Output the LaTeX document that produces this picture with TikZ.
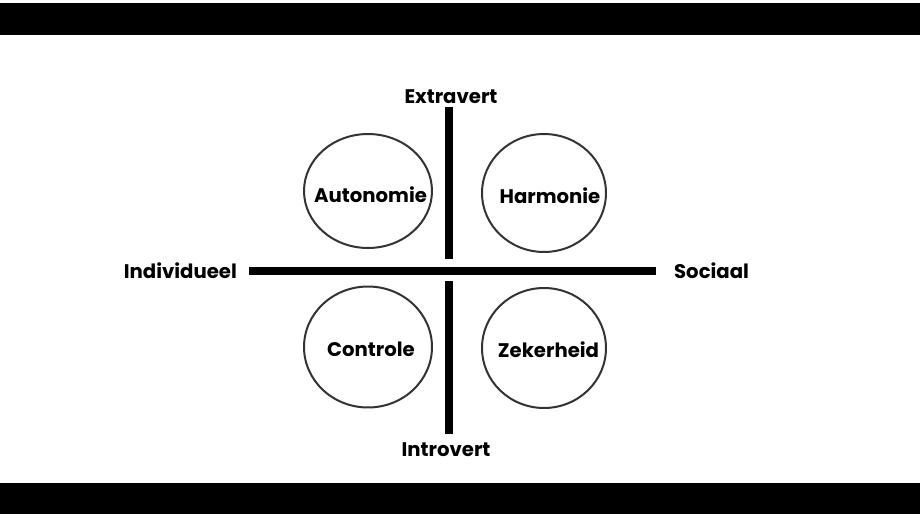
\documentclass[tikz,border=0pt]{standalone}
\usepackage{fontspec}
\setmainfont{Poppins}
\usetikzlibrary{positioning,calc,shapes.geometric}
\definecolor{ink}{HTML}{000000}
\definecolor{rim}{HTML}{333333}

\begin{document}
\begin{tikzpicture}[
  x=0.02cm,y=-0.02cm,
  font=\bfseries\fontsize{11.2}{13}\selectfont,
  pole/.style={text=ink,inner sep=1pt},
  quad/.style={ellipse,draw=rim,line width=0.04cm,inner sep=0pt},
  axis/.style={ink,line width=0.16cm}
]
\useasboundingbox (0,0) rectangle (920,518);
% the frame
\fill[ink] (0,3) rectangle (920,35);
\fill[ink] (0,483) rectangle (920,514);
% the poles
\node[pole] (ext) at (451,97) {Extravert};
\node[pole] (intr) at (446,450) {Introvert};
\node[pole,anchor=east] (ind) at (239,271) {Individueel};
\node[pole,anchor=west] (soc) at (672,271) {Sociaal};
% the axes
\coordinate (hl) at (249,271);
\coordinate (hr) at (656,271);
\coordinate (vt) at (449,107);
\coordinate (vm) at (449,259);
\coordinate (vn) at (449,281);
\coordinate (vb) at (449,434);
\draw[axis] (hl) -- (hr);
\draw[axis] (vt) -- (vm);
\draw[axis] (vn) -- (vb);
% the quadrants
\node[quad,minimum width=2.56cm,minimum height=2.28cm,
  label={[pole,xshift=0.05cm,yshift=-0.08cm]center:Autonomie}] (aut) at (368,191) {};
\node[quad,minimum width=2.48cm,minimum height=2.36cm,
  label={[pole,xshift=0.12cm,yshift=-0.05cm]center:Harmonie}] (har) at (544,193) {};
\node[quad,minimum width=2.56cm,minimum height=2.42cm,
  label={[pole,xshift=0.06cm,yshift=-0.05cm]center:Controle}] (con) at (368,347) {};
\node[quad,minimum width=2.48cm,minimum height=2.40cm,
  label={[pole,xshift=0.09cm,yshift=-0.03cm]center:Zekerheid}] (zek) at (544,348) {};
\end{tikzpicture}
\end{document}
